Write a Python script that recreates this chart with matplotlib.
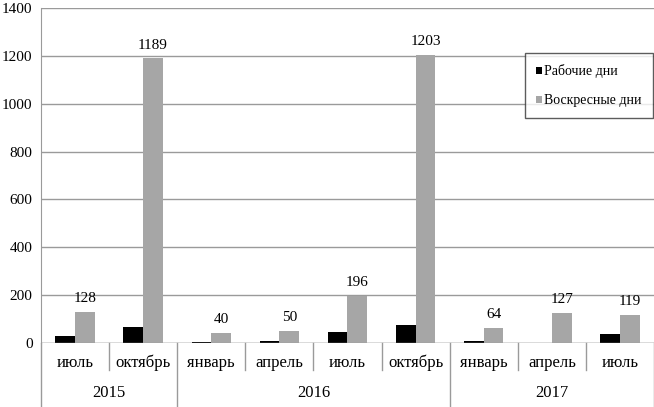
import numpy as np
import matplotlib
matplotlib.use('Agg')
import matplotlib.pyplot as plt
from matplotlib.lines import Line2D

months = ['июль', 'октябрь', 'январь', 'апрель', 'июль', 'октябрь', 'январь', 'апрель', 'июль']
years = ['2015', '2016', '2017']
year_spans = [(0, 2), (2, 6), (6, 9)]
workdays = [30, 65, 3, 8, 45, 75, 8, 0, 37]
sundays = [128, 1189, 40, 50, 196, 1203, 64, 127, 119]

plt.rcParams['font.family'] = ['Liberation Serif', 'DejaVu Serif']

W, H = 654, 407
fig = plt.figure(figsize=(W / 100, H / 100), dpi=100)
ax_l, ax_r, ax_b, ax_t = 41, 654, 343, 8
ax = fig.add_axes([ax_l / W, (H - ax_b) / H, (ax_r - ax_l) / W, (ax_b - ax_t) / H])

x = np.arange(len(months))
bw = 0.29
ax.bar(x - bw / 2, workdays, bw, color='black', label='Рабочие дни', zorder=3)
ax.bar(x + bw / 2, sundays, bw, color='#a6a6a6', label='Воскресные дни', zorder=3)

for xi, v in zip(x, sundays):
    ax.annotate(str(v), (xi + bw / 2, v), xytext=(0, 5), textcoords='offset points',
                ha='center', va='bottom', fontsize=11)

ax.set_xlim(-0.5, len(months) - 0.5)
ax.set_ylim(0, 1400)
ax.set_yticks(range(0, 1401, 200))
ax.tick_params(axis='y', labelsize=11, length=0, pad=6)
ax.set_xticks([])
ax.yaxis.grid(True, color='#9a9a9a', linewidth=1)
ax.set_axisbelow(True)
for s in ['top', 'right', 'bottom']:
    ax.spines[s].set_visible(False)
ax.spines['left'].set_color('#9a9a9a')

# category axis with two levels
ax.axhline(0, color='#9a9a9a', linewidth=1, zorder=4)
trans = ax.get_xaxis_transform()
px = 1.0 / (ax_b - ax_t)
for i in range(len(months) + 1):
    b = i - 0.5
    is_year = any(b == s - 0.5 for s, e in year_spans) or b == len(months) - 0.5
    low = -(H - ax_b) * px if is_year else -27 * px
    ax.add_line(Line2D([b, b], [0, low], transform=trans, color='#9a9a9a',
                       linewidth=1, clip_on=False))
for xi, m in zip(x, months):
    ax.text(xi, -20 * px, m, transform=trans, ha='center', va='center', fontsize=12)
for (s, e), yr in zip(year_spans, years):
    ax.text((s + e - 1) / 2, -50 * px, yr, transform=trans, ha='center', va='center',
            fontsize=12)

leg = ax.legend(loc='upper right', bbox_to_anchor=(0.998, 0.865), fontsize=10,
                frameon=True, fancybox=False, handlelength=0.45, handleheight=0.45,
                handletextpad=0.15, labelspacing=1.15, borderpad=0.8,
                borderaxespad=0)
leg.get_frame().set_edgecolor('#333333')
leg.get_frame().set_linewidth(1)

fig.savefig('out.png', dpi=100)
